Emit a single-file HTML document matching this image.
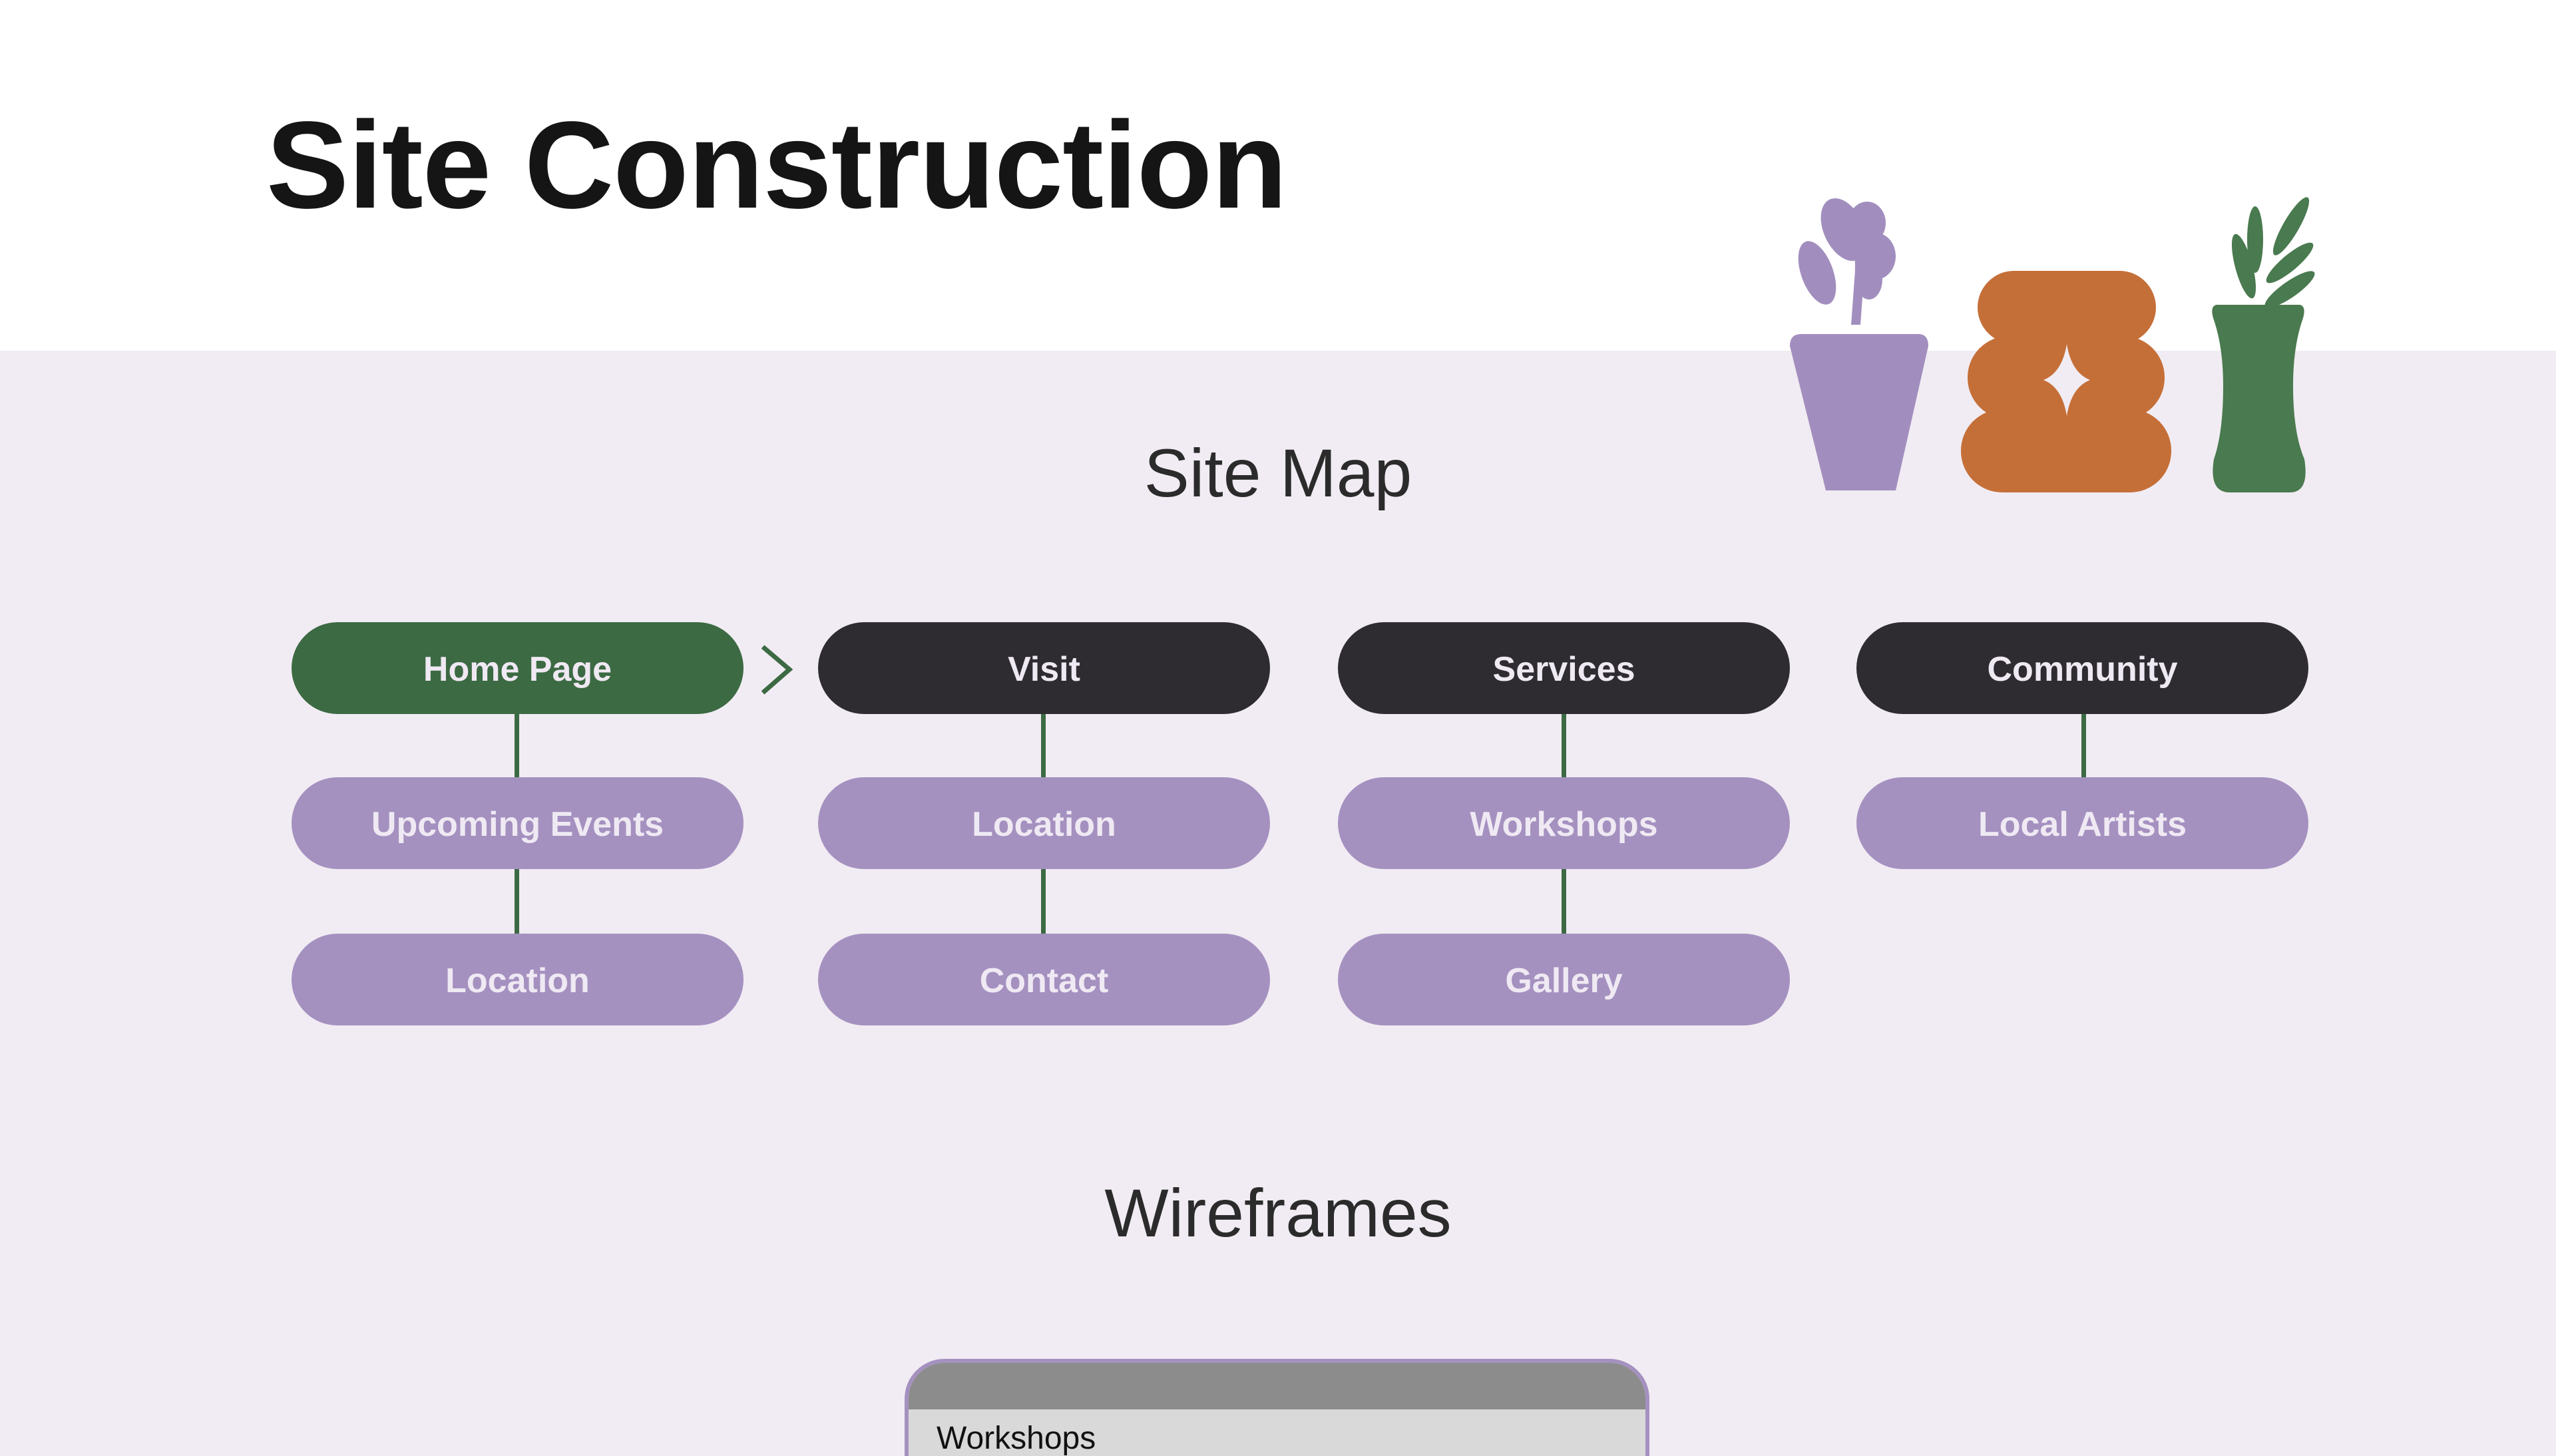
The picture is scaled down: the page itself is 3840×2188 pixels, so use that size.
<!DOCTYPE html>
<html><head><meta charset="utf-8"><style>
html,body{margin:0;padding:0}
body{width:3840px;height:2160px;position:relative;overflow:hidden;background:#f1ecf3;font-family:"Liberation Sans",sans-serif}
.top{position:absolute;left:0;top:0;width:3840px;height:527px;background:#fff}
h1{position:absolute;left:400px;top:156px;margin:0;font-size:186px;font-weight:700;color:#151515;letter-spacing:-1px;line-height:1}
.sub{position:absolute;left:0;width:3840px;text-align:center;font-size:102px;color:#2b2b2b;font-weight:300;line-height:1}
.n{position:absolute;width:679px;height:138px;border-radius:69px;display:flex;align-items:center;justify-content:center;font-weight:700;font-size:52px;color:#efe9f3;padding-top:4px;box-sizing:border-box}
.g{background:#3c6a43}.d{background:#2e2c31}.p{background:#a591c0}
.l{position:absolute;width:7px;background:#3c6a43}
</style></head><body>
<div class="top"></div>
<h1>Site Construction</h1>
<svg style="position:absolute;left:0;top:0" width="3840" height="2160">
 <g fill="#a28ebe">
  <path d="M2706 502 H2882 Q2897 502 2897 520 L2848 737 H2743 L2689 520 Q2689 502 2706 502Z"/>
  <path d="M2781 488 L2786 420 Q2790 380 2778 350 L2795 345 Q2806 380 2800 420 L2795 488Z"/>
  <ellipse cx="2730" cy="410" rx="24" ry="50" transform="rotate(-20 2730 410)"/>
  <ellipse cx="2770" cy="345" rx="30" ry="50" transform="rotate(-25 2770 345)"/>
  <ellipse cx="2805" cy="335" rx="28" ry="32"/>
  <ellipse cx="2818" cy="385" rx="30" ry="35"/>
  <ellipse cx="2808" cy="420" rx="20" ry="30"/>
 </g>
 <g fill="#c56f38">
  <rect x="2971" y="407" width="268" height="110" rx="55"/>
  <rect x="2956" y="505" width="296" height="125" rx="62"/>
  <rect x="2946" y="615" width="316" height="125" rx="62"/>
 </g>
 <path d="M3105 517 Q3112 560 3140 571 Q3112 582 3105 625 Q3098 582 3070 571 Q3098 560 3105 517Z" fill="#f1ecf3"/>
 <g fill="#4a7a4f">
  <path d="M3330 458 H3455 Q3465 460 3460 478 Q3445 520 3445 580 Q3445 650 3462 690 Q3470 740 3440 740 H3350 Q3318 740 3326 690 Q3340 650 3340 580 Q3340 520 3325 478 Q3320 460 3330 458Z"/>
  <ellipse cx="3388" cy="360" rx="12" ry="50"/>
  <ellipse cx="3371" cy="400" rx="13" ry="50" transform="rotate(-15 3371 400)"/>
  <ellipse cx="3442" cy="340" rx="12" ry="50" transform="rotate(30 3442 340)"/>
  <ellipse cx="3440" cy="395" rx="12" ry="45" transform="rotate(50 3440 395)"/>
  <ellipse cx="3440" cy="435" rx="12" ry="45" transform="rotate(55 3440 435)"/>
 </g>
 <polyline points="1146,972 1186,1006 1146,1041" fill="none" stroke="#3c6a43" stroke-width="7"/>
</svg>
<div class="sub" style="top:660px">Site Map</div>
<div class="sub" style="top:1772px">Wireframes</div>

<div class="l" style="left:773px;top:1073px;height:330px"></div>
<div class="l" style="left:1564px;top:1073px;height:330px"></div>
<div class="l" style="left:2346px;top:1073px;height:330px"></div>
<div class="l" style="left:3127px;top:1073px;height:95px"></div>

<div class="n g" style="left:438px;top:935px">Home Page</div>
<div class="n d" style="left:1229px;top:935px">Visit</div>
<div class="n d" style="left:2010px;top:935px">Services</div>
<div class="n d" style="left:2789px;top:935px">Community</div>
<div class="n p" style="left:438px;top:1168px">Upcoming Events</div>
<div class="n p" style="left:1229px;top:1168px">Location</div>
<div class="n p" style="left:2010px;top:1168px">Workshops</div>
<div class="n p" style="left:2789px;top:1168px">Local Artists</div>
<div class="n p" style="left:438px;top:1403px">Location</div>
<div class="n p" style="left:1229px;top:1403px">Contact</div>
<div class="n p" style="left:2010px;top:1403px">Gallery</div>

<div style="position:absolute;left:1359px;top:2042px;width:1107px;height:140px;border:6px solid #a591c0;border-bottom:none;border-radius:60px 60px 0 0;background:#d9d9d9;overflow:hidden">
 <div style="height:70px;background:#8c8c8c"></div>
 <div style="position:absolute;left:42px;top:86px;font-size:48px;color:#111">Workshops</div>
</div>
</body></html>
